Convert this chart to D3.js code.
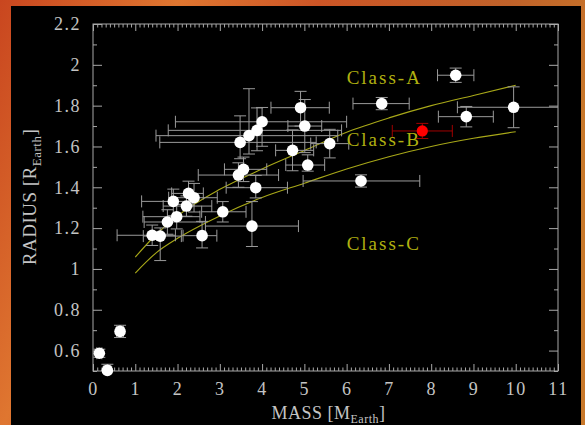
<!DOCTYPE html>
<html><head><meta charset="utf-8">
<script src="https://cdn.jsdelivr.net/npm/d3@7"></script>
<style>html,body{margin:0;padding:0;background:#000;overflow:hidden}</style>
</head><body>
<script>
// ---- data ----
const mass    = [0.15,0.34,0.64,1.40,1.59,1.76,1.90,1.98,2.21,2.26,2.39,2.58,3.07,3.44,3.56,3.48,3.69,3.88,4.00,3.85,3.76,4.72,4.91,5.01,5.08,5.60,6.34,6.83,8.58,8.83,9.95];
const radius  = [0.587,0.503,0.694,1.165,1.161,1.23,1.331,1.256,1.308,1.37,1.349,1.163,1.28,1.46,1.488,1.62,1.653,1.679,1.721,1.398,1.21,1.581,1.79,1.70,1.509,1.614,1.431,1.81,1.949,1.746,1.792];
const massErrLo = [0.06,0.08,0.08,0.83,0.40,0.55,0.75,0.80,0.55,0.40,0.60,0.45,0.50,0.95,0.45,1.90,2.20,2.10,2.05,0.70,1.10,0.40,0.70,0.40,0.52,0.45,1.37,0.68,0.43,0.66,1.33];
const massErrHi = [0.06,0.08,0.08,0.55,0.50,0.90,0.45,0.55,0.60,0.35,0.55,0.35,0.55,0.95,0.55,1.80,2.10,2.00,2.00,0.75,1.10,0.50,0.68,0.40,0.40,0.45,1.39,0.65,0.43,0.64,1.30];
const radErrLo  = [0.02,0.035,0.03,0.05,0.12,0.06,0.07,0.06,0.05,0.06,0.07,0.06,0.05,0.06,0.06,0.08,0.09,0.10,0.12,0.05,0.10,0.10,0.09,0.13,0.03,0.07,0.03,0.03,0.035,0.05,0.10];
const radErrHi  = [0.02,0.03,0.03,0.05,0.04,0.06,0.06,0.06,0.05,0.06,0.07,0.07,0.05,0.06,0.06,0.13,0.23,0.11,0.07,0.06,0.12,0.10,0.08,0.13,0.05,0.07,0.03,0.03,0.035,0.05,0.10];
// highlighted planet (red)
const redMass = [7.79], redRadius = [1.676], redMassErr = [0.71], redRadErr = [0.037];
// class boundary curves
const curveMass   = [1,1.5,2,3,4,5,6,7,8,9,10];
const curveUpperR = [1.058,1.17,1.26,1.39,1.49,1.58,1.67,1.74,1.80,1.85,1.90];
const curveLowerR = [0.98,1.08,1.15,1.26,1.35,1.42,1.49,1.55,1.60,1.64,1.672];
const classLabels = ["Class-A","Class-B","Class-C"];
const classLabelR = [1.905,1.60,1.095];
const xTicks = d3.range(0,12);
const yTicks = [0.6,0.8,1.0,1.2,1.4,1.6,1.8,2.0,2.2];

const W=585,H=425;
const svg = d3.select("body").append("svg").attr("width",W).attr("height",H);
const defs = svg.append("defs");
const g1 = defs.append("linearGradient").attr("id","bg").attr("x1","0").attr("x2","1").attr("y1","0").attr("y2","0.3");
[[0,"#c9461f"],[0.28,"#df7630"],[0.5,"#cc5526"],[0.8,"#c0622a"],[1,"#c8782a"]].forEach(s=>g1.append("stop").attr("offset",s[0]).attr("stop-color",s[1]));
svg.append("rect").attr("width",W).attr("height",H).attr("fill","url(#bg)");
svg.append("rect").attr("x",11).attr("y",6).attr("width",570).attr("height",419).attr("fill","#000");

const x = d3.scaleLinear().domain([0,11]).range([93,558]);
const y = d3.scaleLinear().domain([0.5,2.2]).range([371,24]);
const L=x.range()[0],R=x.range()[1],T=y.range()[1],B=y.range()[0];

defs.append("clipPath").attr("id","clip").append("rect").attr("x",L).attr("y",T).attr("width",R-L).attr("height",B-T);

const axisCol="#a8a8a8";
const font="'Liberation Serif','DejaVu Serif',serif";
function styleAxis(g,labels){
  g.select(".domain").remove();
  g.selectAll(".tick line").attr("stroke",axisCol).attr("stroke-width",1);
  if(!labels) g.selectAll(".tick text").remove();
  else g.selectAll(".tick text").attr("fill","#c4c4c4").attr("font-family",font).attr("font-size",18).attr("letter-spacing","1.5px");
}
const xMinor = d3.range(0,110).map(i=>i/10).filter(v=>Math.abs(v-Math.round(v))>1e-6);
const yMinor = [0.5,0.7,0.9,1.1,1.3,1.5,1.7,1.9,2.1];
const fmt = d=>String(+d.toFixed(1));

svg.append("g").attr("transform",`translate(0,${B})`).call(d3.axisBottom(x).tickValues(xTicks).tickSize(-7).tickPadding(11).tickFormat(d3.format("d"))).call(g=>styleAxis(g,true));
svg.append("g").attr("transform",`translate(0,${B})`).call(d3.axisBottom(x).tickValues(xMinor).tickSize(-3.5)).call(g=>styleAxis(g,false));
svg.append("g").attr("transform",`translate(0,${T})`).call(d3.axisTop(x).tickValues(xTicks).tickSize(-7)).call(g=>styleAxis(g,false));
svg.append("g").attr("transform",`translate(0,${T})`).call(d3.axisTop(x).tickValues(xMinor).tickSize(-3.5)).call(g=>styleAxis(g,false));
svg.append("g").attr("transform",`translate(${L},0)`).call(d3.axisLeft(y).tickValues(yTicks).tickSize(-9).tickPadding(12).tickFormat(fmt)).call(g=>styleAxis(g,true));
svg.append("g").attr("transform",`translate(${L},0)`).call(d3.axisLeft(y).tickValues(yMinor).tickSize(-4)).call(g=>styleAxis(g,false));
svg.append("g").attr("transform",`translate(${R},0)`).call(d3.axisRight(y).tickValues(yTicks).tickSize(-9)).call(g=>styleAxis(g,false));
svg.append("g").attr("transform",`translate(${R},0)`).call(d3.axisRight(y).tickValues(yMinor).tickSize(-4)).call(g=>styleAxis(g,false));
svg.append("rect").attr("x",L).attr("y",T).attr("width",R-L).attr("height",B-T).attr("fill","none").attr("stroke",axisCol).attr("stroke-width",1);

// axis titles
const xt = svg.append("text").attr("x",(L+R)/2+3).attr("y",419).attr("text-anchor","middle").attr("fill","#c4c4c4").attr("font-family",font).attr("font-size",18).attr("letter-spacing","0.5px");
xt.append("tspan").text("MASS [M");
xt.append("tspan").attr("font-size",12).attr("dy",4).text("Earth");
xt.append("tspan").attr("dy",-4).text("]");
const yt = svg.append("text").attr("transform","translate(36,197) rotate(-90)").attr("text-anchor","middle").attr("fill","#c4c4c4").attr("font-family",font).attr("font-size",19).attr("letter-spacing","0.5px");
yt.append("tspan").text("RADIUS [R");
yt.append("tspan").attr("font-size",13).attr("dy",5).text("Earth");
yt.append("tspan").attr("dy",-5).text("]");

// curves
const plot = svg.append("g").attr("clip-path","url(#clip)");
const line = d3.line().x(d=>x(d[0])).y(d=>y(d[1])).curve(d3.curveMonotoneX);
[curveUpperR,curveLowerR].forEach(rs=>{
  plot.append("path").attr("d",line(curveMass.map((m,i)=>[m,rs[i]]))).attr("fill","none").attr("stroke","#a8a818").attr("stroke-width",1.1);
});
// class labels
classLabels.forEach((t,i)=>{
  svg.append("text").attr("x",x(6.0)).attr("y",y(classLabelR[i])).attr("fill","#b0b010").attr("font-family",font).attr("font-size",19).attr("letter-spacing","2px").text(t);
});

// error bars
const cap=6;
function errBar(g,m,r,mlo,mhi,rlo,rhi,col){
  const x0=x(m-mlo),x1=x(m+mhi),y0=y(r-rlo),y1=y(r+rhi),cx=x(m),cy=y(r);
  const seg=(a,b,c,d)=>g.append("line").attr("x1",a).attr("y1",b).attr("x2",c).attr("y2",d).attr("stroke",col).attr("stroke-width",1);
  seg(x0,cy,x1,cy); seg(x0,cy-cap,x0,cy+cap); seg(x1,cy-cap,x1,cy+cap);
  seg(cx,y0,cx,y1); seg(cx-cap,y0,cx+cap,y0); seg(cx-cap,y1,cx+cap,y1);
}
const eb = plot.append("g");
mass.forEach((m,i)=>errBar(eb,m,radius[i],massErrLo[i],massErrHi[i],radErrLo[i],radErrHi[i],"#9a9a9a"));
redMass.forEach((m,i)=>errBar(eb,m,redRadius[i],redMassErr[i],redMassErr[i],redRadErr[i],redRadErr[i],"#a00000"));

svg.append("g").selectAll("circle").data(mass).join("circle")
  .attr("cx",(d)=>x(d)).attr("cy",(d,i)=>y(radius[i])).attr("r",5.8).attr("fill","#fff");
svg.append("g").selectAll("circle").data(redMass).join("circle")
  .attr("cx",d=>x(d)).attr("cy",(d,i)=>y(redRadius[i])).attr("r",5.6).attr("fill","#ff0000");
</script>
</body></html>
